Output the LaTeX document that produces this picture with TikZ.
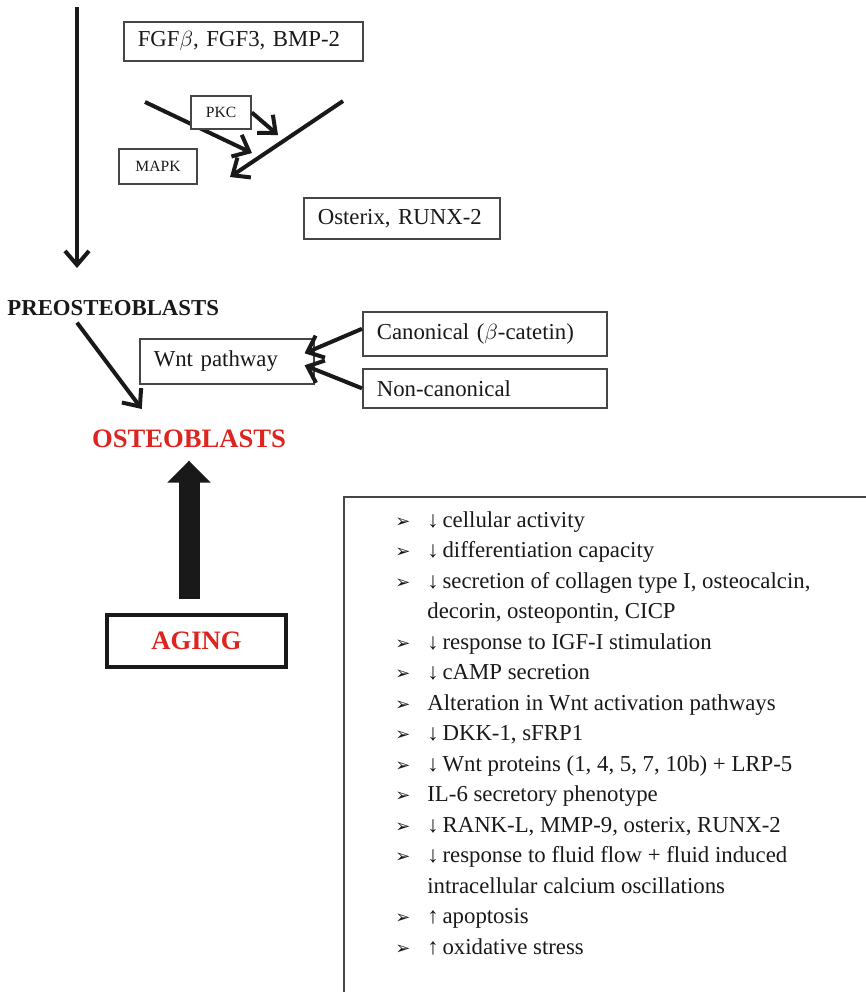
\documentclass[tikz,border=0pt]{standalone}
\usepackage{fontspec}
\setmainfont{Liberation Serif}
\newfontfamily\dejavu{DejaVu Sans}
\usepackage{tikz}
\usetikzlibrary{calc,arrows.meta,positioning}
\usepackage{xcolor}
\definecolor{agingred}{RGB}{221,36,30}
\definecolor{boxline}{RGB}{70,70,70}
\definecolor{inkblack}{RGB}{25,25,25}
\newcommand{\bul}{{\dejavu\fontsize{9}{9}\selectfont ➢}}

\begin{document}
\begin{tikzpicture}[x=0.5pt, y=-0.5pt,
  every node/.style={font=\fontsize{11.4}{15.25}\selectfont, text=inkblack},
  factorbox/.style={draw=boxline, line width=0.8pt, fill=white, anchor=north west,
    align=left, inner xsep=7pt, inner ysep=0pt},
  kinasebox/.style={draw=boxline, line width=0.8pt, fill=white, inner sep=0pt,
    font=\fontsize{7.8}{9}\selectfont},
  thinarrow/.style={draw=inkblack, line width=2pt, -{Straight Barb[length=7pt, width=12pt]}},
  bigarrow/.style={draw=inkblack, line width=10.5pt, -{Triangle[length=11pt, width=21pt]}}]
\useasboundingbox (0,0) rectangle (866,992);

% lineage arrow on the left
\coordinate (stemtop) at (77,7);
\coordinate (stemend) at (77,268);
\draw[thinarrow] (stemtop) -- (stemend);

% growth factors
\node[factorbox, text width=105.5pt, minimum height=19.5pt] (fgf) at (123,21) {FGF$\beta$, FGF3, BMP-2};

% kinase arrows (drawn first, the PKC box covers the first one)
\coordinate (kinAs) at (145,102);
\coordinate (kinAe) at (252,153);
\coordinate (kinBe) at (278,135);
\coordinate (kinCs) at (343,101);
\coordinate (kinCe) at (230,177);
\draw[thinarrow] (kinAs) -- (kinAe);
\draw[thinarrow] (kinCs) -- (kinCe);
\node[kinasebox, minimum width=30pt, minimum height=16.5pt] (pkc) at (221,112.5) {PKC};
\node[kinasebox, minimum width=39pt, minimum height=17.5pt] (mapk) at (158,166.5) {MAPK};
\draw[thinarrow] (pkc.east) -- (kinBe);

% transcription factors
\node[factorbox, text width=84pt, minimum height=20.5pt] (osterix) at (303,197) {Osterix, RUNX-2};

% cell stages
\node[font=\bfseries\fontsize{11.4}{14}\selectfont, inner sep=0pt, anchor=base west] (preo) at (7,315) {PREOSTEOBLASTS};
\node[font=\bfseries\fontsize{13.3}{16}\selectfont, text=agingred, inner sep=0pt, anchor=base] (osteo) at (189,447) {OSTEOBLASTS};
\draw[thinarrow] ($(preo.south west)+(70,7)$) -- ($(osteo.north west)+(50,-20)$);

% Wnt signalling
\node[factorbox, text width=73pt, minimum height=22.5pt] (wnt) at (139,338) {Wnt pathway};
\node[factorbox, text width=108pt, minimum height=22pt] (canon) at (362,311) {Canonical ($\beta$-catetin)};
\node[factorbox, text width=108pt, minimum height=19.5pt] (noncanon) at (362,368) {Non-canonical};
\draw[thinarrow] ($(canon.west)+(0,-5)$) -- ($(wnt.east)+(-10,-8)$);
\draw[thinarrow] (noncanon.west) -- ($(wnt.east)+(-10,4)$);

% aging
\node[draw=inkblack, line width=2pt, minimum width=89.5pt, minimum height=26pt, text=agingred,
  font=\bfseries\fontsize{13.3}{16}\selectfont] (aging) at (196.5,641) {AGING};
\draw[bigarrow] ($(aging.north -| osteo.south)+(0,-14)$) -- ($(osteo.south)+(0,13)$);

% effects of aging
\draw[boxline, line width=0.9pt] (344,992) |- (866,497);
\node[anchor=north west, inner sep=0pt] (effects) at (395,505.65) {%
  \begin{tabular}{@{}p{16pt}@{}l@{}}
    \bul & ↓\,cellular activity\\
    \bul & ↓\,differentiation capacity\\
    \bul & ↓\,secretion of collagen type I, osteocalcin,\\
         & decorin, osteopontin, CICP\\
    \bul & ↓\,response to IGF-I stimulation\\
    \bul & ↓\,cAMP secretion\\
    \bul & Alteration in Wnt activation pathways\\
    \bul & ↓\,DKK-1, sFRP1\\
    \bul & ↓\,Wnt proteins (1, 4, 5, 7, 10b) + LRP-5\\
    \bul & IL-6 secretory phenotype\\
    \bul & ↓\,RANK-L, MMP-9, osterix, RUNX-2\\
    \bul & ↓\,response to fluid flow + fluid induced\\
         & intracellular calcium oscillations\\
    \bul & ↑\,apoptosis\\
    \bul & ↑\,oxidative stress\\
  \end{tabular}
};
\end{tikzpicture}
\end{document}
